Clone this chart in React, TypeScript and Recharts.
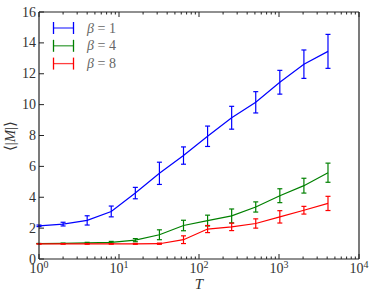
import React from 'react';
import { ComposedChart, Line, XAxis, YAxis, ErrorBar } from 'recharts';

const temps = [1, 2, 4, 8, 16, 32, 64, 128, 256, 512, 1024, 2048, 4096];
const beta1 = [2.15, 2.26, 2.5, 3.08, 4.27, 5.55, 6.7, 7.95, 9.15, 10.15, 11.45, 12.62, 13.45];
const beta1Err = [0.05, 0.12, 0.3, 0.35, 0.37, 0.72, 0.56, 0.66, 0.74, 0.69, 0.77, 0.92, 1.1];
const beta4 = [1.0, 1.01, 1.04, 1.08, 1.22, 1.57, 2.17, 2.49, 2.79, 3.37, 4.1, 4.75, 5.59];
const beta4Err = [0.01, 0.02, 0.04, 0.06, 0.1, 0.32, 0.34, 0.35, 0.45, 0.33, 0.45, 0.48, 0.62];
const beta8 = [0.98, 0.98, 0.98, 0.98, 0.98, 0.99, 1.25, 1.94, 2.08, 2.3, 2.73, 3.16, 3.6];
const beta8Err = [0.01, 0.01, 0.02, 0.02, 0.03, 0.04, 0.25, 0.23, 0.24, 0.3, 0.4, 0.25, 0.46];

const xMajor = [1, 10, 100, 1000, 10000];
const yTicks = [0, 2, 4, 6, 8, 10, 12, 14, 16];
const legendLabels = ['1', '4', '8'];
const colors = ['#0000ff', '#008000', '#ff0000'];

// minor log ticks 2..9 in each decade
const xTicks = xMajor.flatMap((m, i) =>
  i < xMajor.length - 1 ? [m, 2 * m, 3 * m, 4 * m, 5 * m, 6 * m, 7 * m, 8 * m, 9 * m] : [m]
);

const data = temps.map((t, i) => ({
  t,
  b1: beta1[i],
  e1: beta1Err[i],
  b4: beta4[i],
  e4: beta4Err[i],
  b8: beta8[i],
  e8: beta8Err[i],
}));

const serif: React.CSSProperties = { fontFamily: "'Liberation Serif', serif" };
const isMajor = (v: number) => xMajor.includes(v);

const BottomTick = (props: any) => {
  const { x, y, payload } = props;
  const major = isMajor(payload.value);
  const exp = Math.round(Math.log10(payload.value));
  return (
    <g>
      <line x1={x} y1={y} x2={x} y2={y - (major ? 5 : 2.5)} stroke="#222" strokeWidth={1} />
      {major && (
        <text x={x} y={y + 14} textAnchor="middle" style={serif} fontSize={14} fill="#333">
          10
          <tspan dy={-5} fontSize={10}>{exp}</tspan>
        </text>
      )}
    </g>
  );
};

const TopTick = (props: any) => {
  const { x, y, payload } = props;
  const major = isMajor(payload.value);
  return <line x1={x} y1={y} x2={x} y2={y + (major ? 5 : 2.5)} stroke="#222" strokeWidth={1} />;
};

const LeftTick = (props: any) => {
  const { x, y, payload } = props;
  return (
    <g>
      <line x1={x} y1={y} x2={x + 5} y2={y} stroke="#222" strokeWidth={1} />
      <text x={x - 3} y={y + 4.5} textAnchor="end" style={serif} fontSize={14} fill="#333">
        {payload.value}
      </text>
    </g>
  );
};

const RightTick = (props: any) => {
  const { x, y } = props;
  return <line x1={x} y1={y} x2={x - 5} y2={y} stroke="#222" strokeWidth={1} />;
};

const series = [
  { key: 'b1', err: 'e1' },
  { key: 'b4', err: 'e4' },
  { key: 'b8', err: 'e8' },
];

export default function App() {
  return (
    <div style={{ position: 'absolute', left: 0, top: 0, width: 374, height: 298, background: '#fff' }}>
      <ComposedChart
        width={374}
        height={298}
        data={data}
        margin={{ top: 7, right: 10, bottom: 9, left: 9 }}
      >
        <XAxis
          xAxisId="b"
          dataKey="t"
          type="number"
          scale="log"
          domain={[1, 10000]}
          allowDataOverflow
          ticks={xTicks}
          interval={0}
          tickSize={0}
          tickMargin={0}
          tickLine={false}
          tick={<BottomTick />}
          height={30}
          axisLine={{ stroke: '#222', strokeWidth: 1.2 }}
        />
        <XAxis
          xAxisId="t"
          orientation="top"
          dataKey="t"
          type="number"
          scale="log"
          domain={[1, 10000]}
          allowDataOverflow
          ticks={xTicks}
          interval={0}
          tickSize={0}
          tickMargin={0}
          tickLine={false}
          tick={<TopTick />}
          height={5}
          axisLine={{ stroke: '#222', strokeWidth: 1.2 }}
        />
        <YAxis
          yAxisId="l"
          type="number"
          domain={[0, 16]}
          ticks={yTicks}
          interval={0}
          tickSize={0}
          tickMargin={0}
          tickLine={false}
          tick={<LeftTick />}
          width={30}
          axisLine={{ stroke: '#222', strokeWidth: 1.2 }}
        />
        <YAxis
          yAxisId="r"
          orientation="right"
          type="number"
          domain={[0, 16]}
          ticks={yTicks}
          interval={0}
          tickSize={0}
          tickMargin={0}
          tickLine={false}
          tick={<RightTick />}
          width={5}
          axisLine={{ stroke: '#222', strokeWidth: 1.2 }}
        />
        {series.map((s, i) => (
          <Line
            key={s.key}
            xAxisId="b"
            yAxisId="l"
            dataKey={s.key}
            type="linear"
            stroke={colors[i]}
            strokeWidth={1.2}
            dot={false}
            activeDot={false}
            isAnimationActive={false}
          >
            <ErrorBar dataKey={s.err} direction="y" width={2.5} stroke={colors[i]} strokeWidth={1.2} isAnimationActive={false} />
          </Line>
        ))}
      </ComposedChart>
      <svg
        width={374}
        height={298}
        style={{ position: 'absolute', left: 0, top: 0, pointerEvents: 'none' }}
      >
        {legendLabels.map((lab, i) => {
          const y = 28 + i * 17.8;
          return (
            <g key={lab}>
              <line x1={53.5} y1={y} x2={73.5} y2={y} stroke={colors[i]} strokeWidth={1.3} strokeOpacity={0.75} />
              <line x1={53.5} y1={y - 6} x2={53.5} y2={y + 6} stroke={colors[i]} strokeWidth={1.3} />
              <line x1={73.5} y1={y - 6} x2={73.5} y2={y + 6} stroke={colors[i]} strokeWidth={1.3} />
              <text x={87} y={y + 4.5} style={serif} fontSize={14} fill="#666">
                <tspan fontStyle="italic">β</tspan>
                <tspan> = {lab}</tspan>
              </text>
            </g>
          );
        })}
        <text
          transform="translate(15,136) rotate(-90)"
          textAnchor="middle"
          style={serif}
          fontSize={15}
          fill="#333"
        >
          ⟨|<tspan fontStyle="italic">M</tspan>|⟩
        </text>
        <text x={199} y={289} textAnchor="middle" style={serif} fontSize={15} fontStyle="italic" fill="#333">
          T
        </text>
      </svg>
    </div>
  );
}
